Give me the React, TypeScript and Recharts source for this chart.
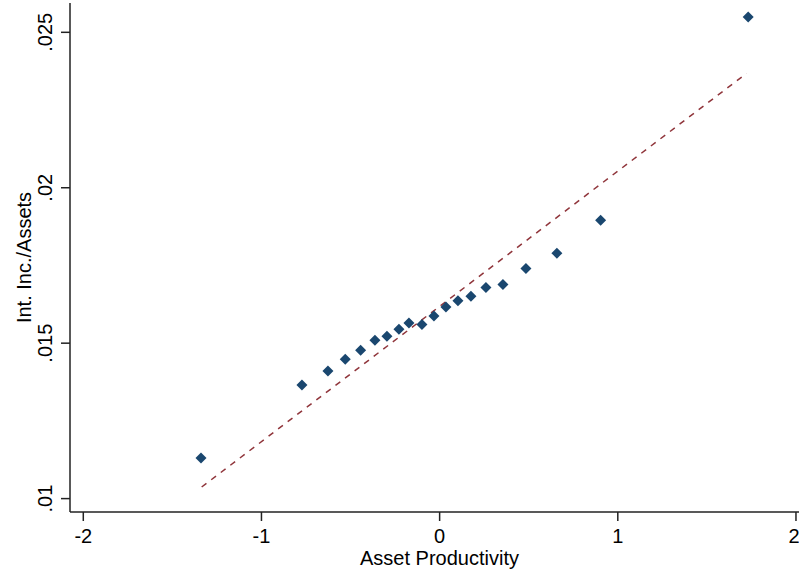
import { ScatterChart, Scatter, XAxis, YAxis, Label } from "recharts";

// binned means: asset productivity vs interest income / assets
const assetProd = [
  -1.3395, -0.7727, -0.6268, -0.5297, -0.4433, -0.3631, -0.2957, -0.2284, -0.1723, -0.0993,
  -0.032, 0.0354, 0.1027, 0.1756, 0.2598, 0.3552, 0.4843, 0.6582, 0.9035, 1.7318,
];
const intIncAssets = [
  0.011307, 0.013657, 0.014107, 0.014484, 0.014774, 0.015095, 0.015224, 0.01545, 0.015652, 0.015601,
  0.015878, 0.016167, 0.016361, 0.016512, 0.016792, 0.016888, 0.017403, 0.017896, 0.018958, 0.025492,
];

// linear fit endpoints
const fitX = [-1.3356, 1.7228];
const fitY = [0.010373, 0.02368];

const xTicks = [-2, -1, 0, 1, 2];
const yTicks = [0.01, 0.015, 0.02, 0.025];

const NAVY = "#1A476F";
const MAROON = "#90353B";
const AXIS = "#222";
const FONT = "'Liberation Sans', Arial, sans-serif";

const points = assetProd.map((x, i) => ({ x, y: intIncAssets[i] }));
const fitLine = fitX.map((x, i) => ({ x, y: fitY[i] }));

const fmtY = (v: number) => String(v).replace(/^0/, "");

function Diamond(props: any) {
  const { cx, cy } = props;
  const r = 5.5;
  return (
    <path
      d={`M${cx},${cy - r} L${cx + r},${cy} L${cx},${cy + r} L${cx - r},${cy} Z`}
      fill={NAVY}
    />
  );
}

function YTick(props: any) {
  const { x, y, payload } = props;
  return (
    <text
      x={x}
      y={y}
      transform={`rotate(-90, ${x}, ${y})`}
      textAnchor="middle"
      fontSize={20}
      fontFamily={FONT}
      fill="#000"
    >
      {fmtY(payload.value)}
    </text>
  );
}

function YTitle(props: any) {
  const { viewBox } = props;
  const x = 31;
  const y = viewBox.y + viewBox.height / 2;
  return (
    <text
      x={x}
      y={y}
      transform={`rotate(-90, ${x}, ${y})`}
      textAnchor="middle"
      fontSize={20}
      fontFamily={FONT}
      fill="#000"
    >
      Int. Inc./Assets
    </text>
  );
}

export default function App() {
  return (
    <div style={{ position: "absolute", left: 0, top: 0, background: "#fff" }}>
      <ScatterChart width={799} height={571} margin={{ top: 3, right: 0, bottom: 0, left: 0 }}>
        <XAxis
          type="number"
          dataKey="x"
          domain={[-2.0746, 2.017]}
          allowDataOverflow
          ticks={xTicks}
          height={59}
          tickSize={9}
          tickMargin={8}
          stroke={AXIS}
          strokeWidth={1.5}
          tick={{ fontSize: 20, fontFamily: FONT, fill: "#000" }}
        >
          <Label
            value="Asset Productivity"
            position="insideBottom"
            offset={6}
            dx={5}
            style={{ fontSize: 20, fontFamily: FONT, fill: "#000" }}
          />
        </XAxis>
        <YAxis
          type="number"
          dataKey="y"
          domain={[0.009569, 0.025943]}
          allowDataOverflow
          ticks={yTicks}
          width={70}
          tickSize={9}
          tickMargin={9}
          stroke={AXIS}
          strokeWidth={1.5}
          tick={<YTick />}
        >
          <Label content={<YTitle />} />
        </YAxis>
        <Scatter
          data={fitLine}
          line={{ stroke: MAROON, strokeWidth: 1.5, strokeDasharray: "6 6" }}
          shape={() => <g />}
          isAnimationActive={false}
        />
        <Scatter data={points} shape={<Diamond />} isAnimationActive={false} />
      </ScatterChart>
    </div>
  );
}
